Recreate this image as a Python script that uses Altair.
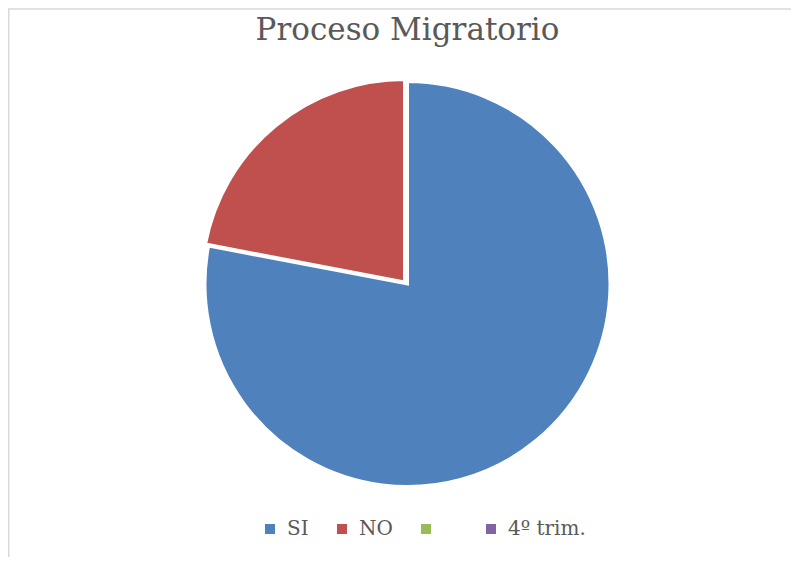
import altair as alt
import pandas as pd

categories = ["SI", "NO", "\u2800", "4º trim."]
values = [78, 22, 0, 0]
colors = ["#4F81BD", "#C0504D", "#9BBB59", "#8064A2"]
title_text = "Proceso Migratorio"

df = pd.DataFrame({"cat": categories, "val": values, "idx": list(range(len(categories)))})

W, H = 783, 549
CX, CY, R = 399.5, 276, 202.5

color = alt.Color(
    "cat:N",
    scale=alt.Scale(domain=categories, range=colors),
    sort=categories,
    legend=alt.Legend(
        title=None, orient="none", direction="horizontal",
        legendX=252, legendY=511, symbolType="square", symbolSize=100,
        symbolStrokeWidth=0, labelFont="DejaVu Serif", labelFontSize=20,
        labelColor="#595959", labelOffset=7, columnPadding=23, padding=0,
    ),
)

base = alt.Chart(df).encode(
    theta=alt.Theta("val:Q", stack=True),
    color=color,
    order=alt.Order("idx:Q"),
)

pie_main = base.mark_arc(outerRadius=R, stroke="white", strokeWidth=3).encode(
    x=alt.value(CX), y=alt.value(CY),
    opacity=alt.condition("datum.cat == 'SI'", alt.value(1), alt.value(0)),
)
pie_expl = base.mark_arc(outerRadius=R, stroke="white", strokeWidth=3).encode(
    x=alt.value(CX - 3), y=alt.value(CY - 2),
    opacity=alt.condition("datum.cat == 'NO'", alt.value(1), alt.value(0)),
)

title = alt.Chart(pd.DataFrame({"t": [title_text]})).mark_text(
    font="DejaVu Serif", fontSize=31, color="#595959", baseline="alphabetic", align="center"
).encode(text="t:N", x=alt.value(399.5), y=alt.value(31.5))

border_top = alt.Chart(pd.DataFrame({"b": [0]})).mark_rule(color="#d9d9d9", strokeWidth=1.5).encode(
    x=alt.value(0), x2=alt.value(W), y=alt.value(1)
)
border_left = alt.Chart(pd.DataFrame({"b": [0]})).mark_rule(color="#d9d9d9", strokeWidth=1.5).encode(
    x=alt.value(0.75), y=alt.value(1), y2=alt.value(H)
)

chart = alt.layer(border_top, border_left, pie_main, pie_expl, title).properties(
    width=W, height=H, padding=0, autosize=alt.AutoSizeParams(type="none")
).configure_view(stroke=None)

chart.save("out.html", embed_options={"renderer": "svg", "actions": False})
